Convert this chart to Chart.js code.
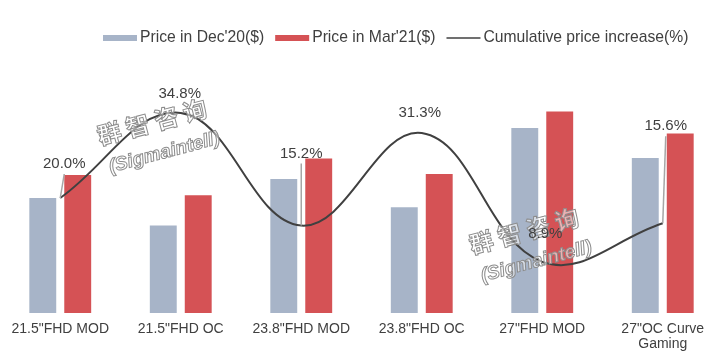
<!DOCTYPE html>
<html>
<head>
<meta charset="utf-8">
<script src="https://cdn.jsdelivr.net/npm/chart.js@4.4.1/dist/chart.umd.min.js"></script>
<style>
  html, body { margin: 0; padding: 0; background: #fff; }
</style>
</head>
<body>
<canvas id="chart" width="725" height="361"></canvas>
<script>
const categories = ['21.5"FHD MOD', '21.5"FHD OC', '23.8"FHD MOD', '23.8"FHD OC', '27"FHD MOD', ['27"OC Curve', 'Gaming']];
const priceDec20 = [50, 38, 58.3, 46, 80.4, 67.4];
const priceMar21 = [60, 51.2, 67.2, 60.4, 87.6, 78];
const increasePct = [20.0, 34.8, 15.2, 31.3, 8.9, 15.6];
const seriesNames = ["Price in Dec'20($)", "Price in Mar'21($)", "Cumulative price increase(%)"];

const GREY = "#a7b4c8";
const RED = "#d55255";
const LINE = "#404040";
const TEXT = "#404040";
const FONT = "'Liberation Sans', Arial, sans-serif";

// label placement relative to each point (dx, dy) - mimics the hand-dragged excel labels
const labelOffsets = [[4, -34], [-1, -19], [0, -72], [-2, -20], [3, -28], [3, -97]];

const pctLabels = {
  id: "pctLabels",
  afterDraw(chart) {
    const ctx = chart.ctx;
    const meta = chart.getDatasetMeta(2);
    ctx.save();
    ctx.font = "15px " + FONT;
    ctx.textAlign = "center";
    ctx.textBaseline = "middle";
    meta.data.forEach((pt, i) => {
      const [dx, dy] = labelOffsets[i];
      const lx = pt.x + dx;
      const ly = pt.y + dy;
      // leader line when the label sits far from its point
      if (Math.abs(dy) > 30) {
        ctx.strokeStyle = "#a6a6a6";
        ctx.lineWidth = 1.5;
        ctx.beginPath();
        ctx.moveTo(lx, ly + 10);
        ctx.lineTo(pt.x, pt.y);
        ctx.stroke();
      }
      ctx.fillStyle = TEXT;
      ctx.fillText(increasePct[i].toFixed(1) + "%", lx, ly);
    });
    ctx.restore();
  }
};

// category names under the bars
const xLabels = {
  id: "xLabels",
  afterDraw(chart) {
    const ctx = chart.ctx;
    const xs = chart.scales.x;
    const top = chart.chartArea.bottom + 16;
    ctx.save();
    ctx.font = "14px " + FONT;
    ctx.fillStyle = TEXT;
    ctx.textAlign = "center";
    ctx.textBaseline = "middle";
    categories.forEach((c, i) => {
      const lines = Array.isArray(c) ? c : [c];
      const cx = xs.getPixelForValue(i);
      lines.forEach((ln, j) => {
        ctx.fillText(ln, cx, top + j * 15);
      });
    });
    ctx.restore();
  }
};

// legend drawn by hand: the original sits right of centre
const sideLegend = {
  id: "sideLegend",
  afterDraw(chart) {
    const ctx = chart.ctx;
    ctx.save();
    ctx.font = "15.7px " + FONT;
    ctx.textBaseline = "middle";
    let x = 103;
    const y = 38;
    chart.data.datasets.forEach((ds) => {
      if (ds.type === "line") {
        ctx.strokeStyle = ds.borderColor;
        ctx.lineWidth = 1.5;
        ctx.beginPath();
        ctx.moveTo(x, y);
        ctx.lineTo(x + 34, y);
        ctx.stroke();
      } else {
        ctx.fillStyle = ds.backgroundColor;
        ctx.fillRect(x, y - 3, 34, 6);
      }
      x += 37;
      ctx.fillStyle = TEXT;
      ctx.fillText(ds.label, x, y);
      x += ctx.measureText(ds.label).width + 11;
    });
    ctx.restore();
  }
};

// faint company watermark
const watermark = {
  id: "watermark",
  afterDraw(chart) {
    const ctx = chart.ctx;
    const marks = [[152, 122], [524, 231]];
    marks.forEach(([cx, cy]) => {
      ctx.save();
      ctx.translate(cx, cy);
      ctx.rotate(-15 * Math.PI / 180);
      ctx.textAlign = "center";
      ctx.textBaseline = "middle";
      ctx.lineWidth = 1;
      ctx.strokeStyle = "#8c8c8c";
      ctx.fillStyle = "rgba(255,255,255,0.55)";
      ctx.font = "bold 24px 'Noto Sans CJK SC', sans-serif";
      ctx.fillText("群 智 咨 询", 0, 0);
      ctx.strokeText("群 智 咨 询", 0, 0);
      ctx.font = "italic bold 19px " + FONT;
      ctx.fillText("(Sigmaintell)", 4, 33);
      ctx.strokeText("(Sigmaintell)", 4, 33);
      ctx.restore();
    });
  }
};

new Chart(document.getElementById("chart"), {
  data: {
    labels: categories,
    datasets: [
      {
        type: "bar",
        label: seriesNames[0],
        data: priceDec20,
        backgroundColor: GREY,
        yAxisID: "y",
        order: 1
      },
      {
        type: "bar",
        label: seriesNames[1],
        data: priceMar21,
        backgroundColor: RED,
        yAxisID: "y",
        order: 1
      },
      {
        type: "line",
        label: seriesNames[2],
        data: increasePct,
        yAxisID: "y1",
        borderColor: LINE,
        borderWidth: 2,
        pointRadius: 0,
        tension: 0.4,
        order: 0
      }
    ]
  },
  options: {
    responsive: false,
    animation: false,
    devicePixelRatio: 1,
    layout: { padding: { top: 83, bottom: 48, left: 0, right: 2 } },
    datasets: {
      bar: { categoryPercentage: 0.58, barPercentage: 0.77 }
    },
    plugins: {
      legend: { display: false },
      tooltip: { enabled: false }
    },
    scales: {
      x: { display: false },
      y: { display: false, min: 0, max: 100 },
      y1: { display: false, min: 0, max: 40, position: "right" }
    }
  },
  plugins: [watermark, pctLabels, xLabels, sideLegend]
});
</script>
</body>
</html>
